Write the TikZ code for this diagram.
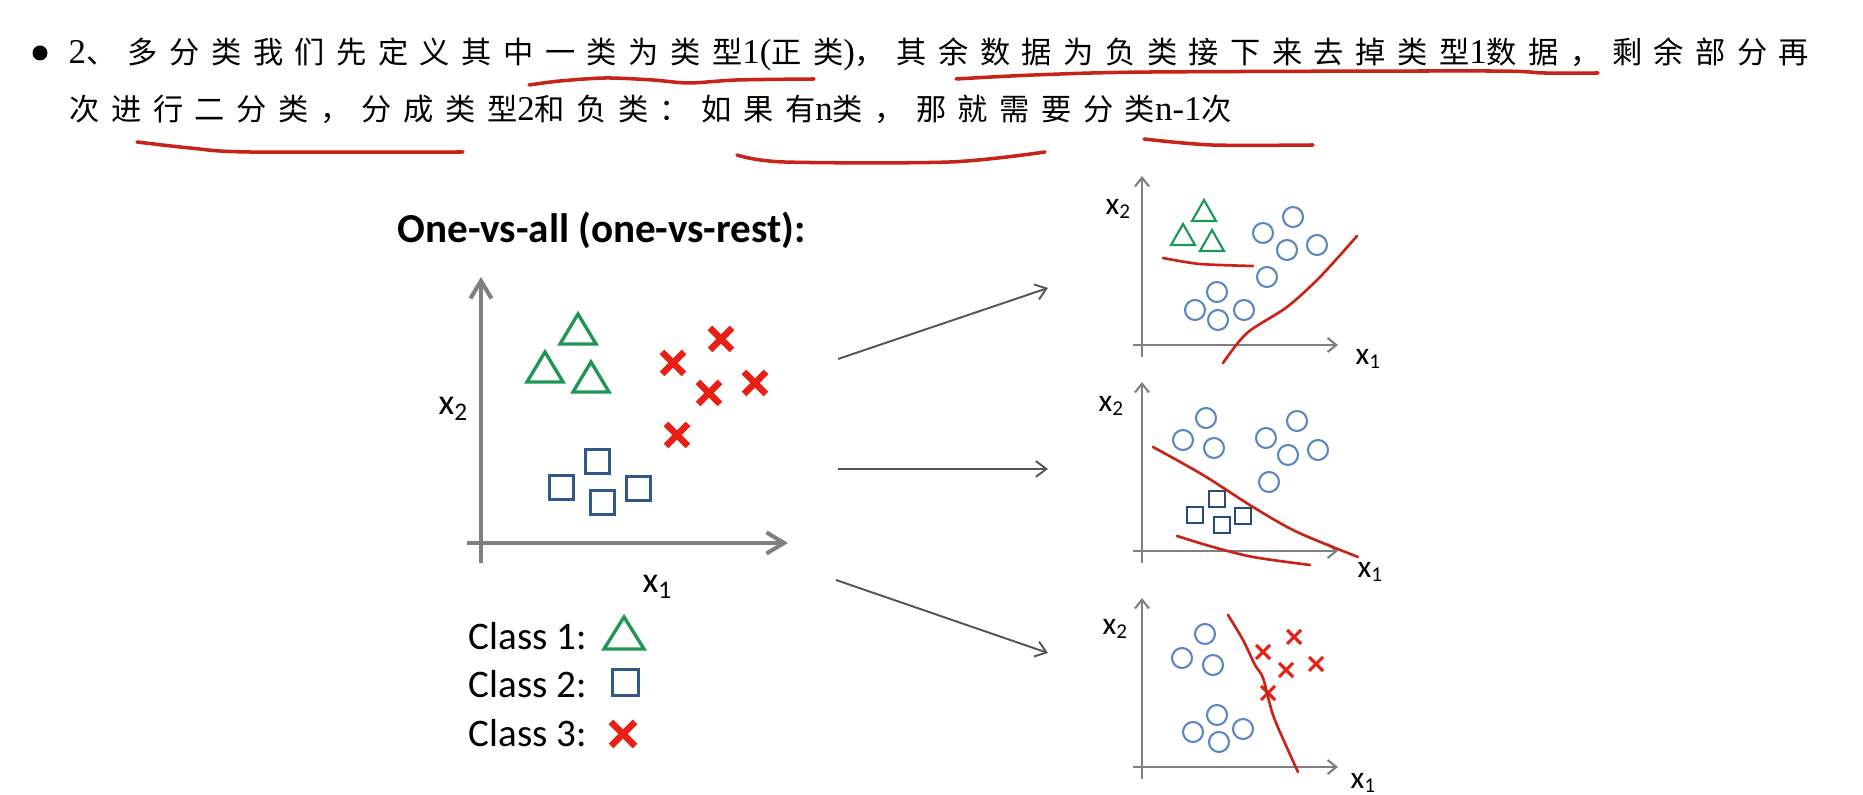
\documentclass[tikz,border=0pt]{standalone}
\usepackage{fontspec}
\setmainfont{Carlito}
\newfontfamily\cjk{Noto Sans CJK SC}[LetterSpace=38]
\newfontfamily\latn{Liberation Serif}[Scale=1.15]
\usetikzlibrary{arrows.meta}

\definecolor{clsgreen}{RGB}{30,150,85}
\definecolor{clsblue}{RGB}{48,88,140}
\definecolor{clsred}{RGB}{232,32,22}
\definecolor{circblue}{RGB}{90,135,195}
\definecolor{axisgray}{RGB}{128,128,128}
\definecolor{linkgray}{RGB}{85,85,85}
\definecolor{penred}{RGB}{200,35,25}

\tikzset{
	bigaxis/.style={draw=axisgray, line width=1.15pt, -{Straight Barb[length=5pt,width=6pt]}},
	smallaxis/.style={draw=axisgray, line width=0.6pt, -{Straight Barb[length=2.5pt,width=4pt]}},
	link/.style={draw=linkgray, line width=0.55pt, -{Straight Barb[length=3pt,width=4.5pt]}},
	pen/.style={draw=penred, line width=0.75pt, line cap=round, line join=round},
	underpen/.style={pen, line width=1pt},
	tribig/.style={draw=clsgreen, line width=0.95pt, line join=miter},
	trismall/.style={draw=clsgreen, line width=0.6pt, line join=miter},
	sqbig/.style={draw=clsblue, line width=0.85pt},
	sqsmall/.style={draw=clsblue!85!black, line width=0.6pt},
	crossbig/.style={draw=clsred, line width=1.9pt},
	crosssmall/.style={draw=clsred, line width=0.9pt},
	dot/.style={draw=circblue, line width=0.6pt},
	lab/.style={inner sep=0pt, anchor=base west},
	zh/.style={lab, font=\cjk\fontsize{8.6}{10}\selectfont},
}

\begin{document}
\begin{tikzpicture}[x=0.01cm, y=-0.01cm]
	\useasboundingbox (0,0) rectangle (1863,795);
	% heading text
	\fill (40,53) circle (7.5);
	\node[zh] (line1) at (68,64)
	{{\latn 2}、多分类我们先定义其中一类为类型{\latn 1(}正类{\latn )}，其余数据为负类接下来去掉类型{\latn 1}数据，剩余部分再};
	\node[zh] (line2) at (69,121)
	{次进行二分类，分成类型{\latn 2}和负类：如果有{\latn n}类，那就需要分类{\latn n-1}次};
	% hand-drawn underlines
	\draw[underpen] plot[smooth] coordinates {(529,85) (560,81) (606,78) (653,80) (689,83) (737,80) (814,79)};
	\draw[underpen] plot[smooth] coordinates {(956,79) (1034,75) (1152,72) (1485,71) (1544,73) (1598,73)};
	\draw[underpen] plot[smooth] coordinates {(137,142) (190,148) (249,152) (463,152)};
	\draw[underpen] plot[smooth] coordinates {(737,155) (784,162) (950,162) (1045,152)};
	\draw[underpen] plot[smooth] coordinates {(1144,139) (1212,145) (1313,145)};

	% left plot
	\node[lab, font=\bfseries\fontsize{11.7}{14}\selectfont] (title) at (397,243)
	{One-vs-all (one-vs-rest):};
	\draw[bigaxis] (481,563) -- (481,277);
	\draw[bigaxis] (467,543) -- (788,543);
	\node[lab, font=\fontsize{10.3}{12}\selectfont] (lx2) at (438,415) {x\textsubscript{2}};
	\node[lab, font=\fontsize{10.3}{12}\selectfont] (lx1) at (642,593) {x\textsubscript{1}};
	\foreach \x/\y in {578/330, 545/368, 591/378}
		\draw[tribig] (\x,\y) ++(0,-16) -- ++(18,30) -- ++(-36,0) -- cycle;
	\foreach \x/\y in {597/462, 561/488, 602/503, 638/489}
		\draw[sqbig] (\x,\y) ++(-12,-12) rectangle ++(24,24);
	\foreach \x/\y in {721/339, 673/363, 709/393, 755/383, 677/435}
		\draw[crossbig] (\x,\y) ++(-11,-11) -- ++(22,22) ++(0,-22) -- ++(-22,22);

	% legend
	\foreach \c/\y in {1/650, 2/698, 3/747}
		\node[lab, font=\fontsize{11.1}{13}\selectfont] (class\c) at (468,\y) {Class \c:};
	\draw[tribig] (624,634) ++(0,-17) -- ++(20,32) -- ++(-40,0) -- cycle;
	\draw[sqbig] (625,683) ++(-13,-13) rectangle ++(26,26);
	\draw[crossbig] (623,734) ++(-12,-12) -- ++(24,24) ++(0,-24) -- ++(-24,24);

	% arrows to the three binary problems
	\coordinate (from1) at (838,359);
	\coordinate (from2) at (838,469);
	\coordinate (from3) at (836,580);
	\coordinate (to1) at (1048,288);
	\coordinate (to2) at (1048,469);
	\coordinate (to3) at (1048,653);
	\foreach \i in {1,2,3}
		\draw[link] (from\i) -- (to\i);

	% small plots: axes
	\foreach \ay in {345,551,767} {
		\draw[smallaxis] (1142,\ay+12) -- (1142,\ay-169);
		\draw[smallaxis] (1133,\ay) -- (1338,\ay);
	}
	\foreach \n/\px/\py/\qx/\qy in {a/1105/215/1355/365, b/1098/412/1357/578, c/1102/635/1350/789} {
		\node[lab, font=\fontsize{9}{11}\selectfont] (sx2\n) at (\px,\py) {x\textsubscript{2}};
		\node[lab, font=\fontsize{9}{11}\selectfont] (sx1\n) at (\qx,\qy) {x\textsubscript{1}};
	}

	% class 1 vs rest
	\foreach \x/\y in {1204/211, 1183/235, 1212/241}
		\draw[trismall] (\x,\y) ++(0,-11) -- ++(12,21) -- ++(-24,0) -- cycle;
	\foreach \x/\y in {1263/233, 1293/217, 1287/250, 1317/245, 1267/277, 1217/292, 1195/310, 1218/320, 1244/310}
		\draw[dot] (\x,\y) circle (10);
	\draw[pen] plot[smooth] coordinates {(1163,258) (1200,264) (1253,266)};
	\draw[pen] plot[smooth] coordinates {(1223,363) (1247,333) (1287,307) (1320,277) (1357,236)};

	% class 2 vs rest
	\foreach \x/\y in {1206/418, 1183/440, 1214/448, 1266/438, 1297/421, 1288/455, 1318/450, 1269/482}
		\draw[dot] (\x,\y) circle (10);
	\foreach \x/\y in {1217/499, 1195/515, 1222/525, 1243/516}
		\draw[sqsmall] (\x,\y) ++(-8,-8) rectangle ++(16,16);
	\draw[pen] plot[smooth] coordinates {(1153,447) (1203,475) (1253,507) (1297,532) (1358,557)};
	\draw[pen] plot[smooth] coordinates {(1177,536) (1213,547) (1253,557) (1310,565)};

	% class 3 vs rest
	\foreach \x/\y in {1205/634, 1182/658, 1213/665, 1217/715, 1193/732, 1219/742, 1243/729}
		\draw[dot] (\x,\y) circle (10);
	\foreach \x/\y in {1294/637, 1263/652, 1286/670, 1316/664, 1268/693}
		\draw[crosssmall] (\x,\y) ++(-7,-7) -- ++(14,14) ++(0,-14) -- ++(-14,14);
	\draw[pen] plot[smooth] coordinates {(1228,615) (1243,640) (1255,665) (1263,678) (1273,715) (1288,750) (1298,772)};
\end{tikzpicture}
\end{document}
